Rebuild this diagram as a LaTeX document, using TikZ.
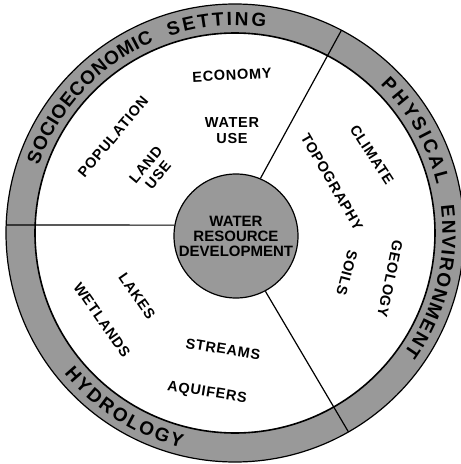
\documentclass[tikz,border=0pt]{standalone}
\usepackage{fontspec}
\setmainfont{Liberation Sans}
\newfontfamily\tagfont[LetterSpace=5]{Liberation Sans}
\newcommand{\ringfont}{\bfseries\fontsize{19}{19}\selectfont}
\usetikzlibrary{decorations.text}

\begin{document}
\begin{tikzpicture}[x=1pt, y=1pt, line width=1.2pt,
    shade/.style={fill=black!40},
    tag/.style={font=\tagfont\bfseries\fontsize{14.5}{16}\selectfont, align=center, inner sep=0pt},
    hubtext/.style={font=\bfseries\fontsize{15}{15}\selectfont, align=center}]
  \clip (-235,-231) rectangle (226,233);
  % outer ring
  \fill[shade, even odd rule] (0,0) circle (229) (0,0) circle (200);
  \draw (0,0) circle (229);
  \draw[line width=1.6pt] (0,0) circle (200);
  \path[decorate, decoration={text along path, text={|\ringfont|SOCIOECONOMIC}, text align={fit to path}}]
    (161:207.5) arc[start angle=161, end angle=113, radius=207.5];
  \path[decorate, decoration={text along path, text={|\ringfont|SETTING}, text align={fit to path}}]
    (108.5:207.5) arc[start angle=108.5, end angle=81.5, radius=207.5];
  \path[decorate, decoration={text along path, text={|\ringfont|PHYSICAL}, text align={fit to path}}]
    (45.5:207.5) arc[start angle=45.5, end angle=13.5, radius=207.5];
  \path[decorate, decoration={text along path, text={|\ringfont|ENVIRONMENT}, text align={fit to path}}]
    (7.5:207.5) arc[start angle=7.5, end angle=-35.5, radius=207.5];
  \path[decorate, decoration={text along path, text={|\ringfont|HYDROLOGY}, text align={fit to path}}]
    (219.5:221.5) arc[start angle=219.5, end angle=256, radius=221.5];
  % hub
  \node[draw, circle, shade, minimum size=124, inner sep=0pt, hubtext] (hub) at (1,-3) {WATER\\RESOURCE\\DEVELOPMENT};
  \coordinate (rimA) at (62.3:229);
  \coordinate (rimB) at (-60.3:229);
  \coordinate (rimC) at (178:229);
  \draw (hub.67) -- (rimA);
  \draw (hub.-62.7) -- (rimB);
  \draw (hub.170) -- (rimC);
  % socioeconomic
  \node[tag, rotate=3] (econ) at (-3,158) {ECONOMY};
  \node[tag] (wateruse) at (-3,102) {WATER\\USE};
  \node[tag, rotate=50] (pop) at (-122,96) {POPULATION};
  \node[tag, rotate=50] (landuse) at (-83,63) {LAND\\USE};
  % physical
  \node[tag, rotate=-57] (climate) at (137,78) {CLIMATE};
  \node[tag, rotate=-60] (topo) at (97,51) {TOPOGRAPHY};
  \node[tag, rotate=-105] (soils) at (112,-40) {SOILS};
  \node[tag, rotate=-102] (geology) at (155,-46) {GEOLOGY};
  % hydrology
  \node[tag, rotate=-55] (lakes) at (-98,-63) {LAKES};
  \node[tag, rotate=-55] (wetlands) at (-133,-87) {WETLANDS};
  \node[tag, rotate=-9] (streams) at (-12,-116) {STREAMS};
  \node[tag, rotate=-9] (aquifers) at (-28,-160) {AQUIFERS};
\end{tikzpicture}
\end{document}
